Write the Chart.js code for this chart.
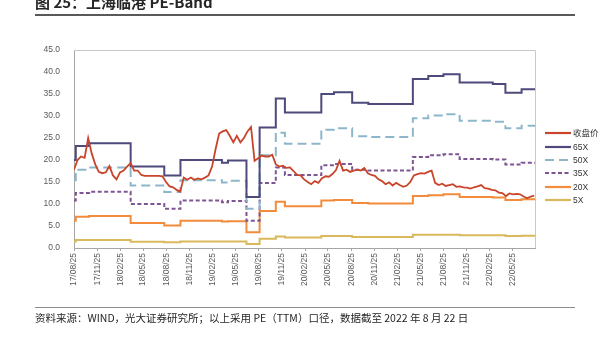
<!DOCTYPE html>
<html>
<head>
<meta charset="utf-8">
<script src="https://cdn.jsdelivr.net/npm/chart.js@4/dist/chart.umd.min.js"></script>
<style>
  body { margin: 0; background: #fff; }
  #wrap { position: relative; width: 609px; height: 338px; overflow: hidden; }
  #c { position: absolute; left: 0; top: 0; }
  .title { position: absolute; left: 35px; top: -9px; font: bold 15px "Noto Sans CJK SC", sans-serif; color: #262626; white-space: nowrap; }
  .rule { position: absolute; left: 35px; width: 540px; background: #595959; }
  .foot { position: absolute; left: 35px; top: 310px; font: 10.5px "Noto Sans CJK SC", sans-serif; color: #262626; white-space: nowrap; }
</style>
</head>
<body>
<div id="wrap">
  <canvas id="c" width="609" height="338"></canvas>
  <div class="title">图 25：上海临港 PE-Band</div>
  <div class="rule" style="top:14px;height:1.5px"></div>
  <div class="rule" style="top:307px;height:1px;background:#8c8c8c"></div>
  <div class="foot">资料来源：WIND，光大证券研究所；以上采用 PE（TTM）口径，数据截至 2022 年 8 月 22 日</div>
</div>
<script>
const START = "2017-08-25";
const END = "2022-08-22";

const tickDates = ["2017-08-25", "2017-11-25", "2018-02-25", "2018-05-25", "2018-08-25", "2018-11-25",
  "2019-02-25", "2019-05-25", "2019-08-25", "2019-11-25", "2020-02-25", "2020-05-25", "2020-08-25",
  "2020-11-25", "2021-02-25", "2021-05-25", "2021-08-25", "2021-11-25", "2022-02-25", "2022-05-25"];

// band lines change only when the TTM earnings change
const bandDates = ["2017-08-25", "2017-09-01", "2017-10-24", "2018-04-06", "2018-08-17", "2018-10-20",
  "2019-04-02", "2019-04-26", "2019-07-08", "2019-08-29", "2019-11-01", "2019-12-07", "2020-04-29",
  "2020-06-18", "2020-08-29", "2020-11-01", "2021-04-26", "2021-06-26", "2021-08-25", "2021-10-28",
  "2022-03-08", "2022-04-27", "2022-06-30", "2022-08-22"];
const pe65 = [20.0, 23.2, 23.8, 18.5, 16.5, 20.0, 19.4, 19.9, 11.6, 27.4, 34.0, 30.8, 35.0, 35.4, 33.0, 32.7, 38.4, 39.1, 39.5, 37.6, 37.3, 35.3, 36.1, 36.1];
const pe50 = [15.4, 17.8, 18.3, 14.2, 12.7, 15.4, 14.9, 15.3, 8.9, 21.1, 26.2, 23.7, 26.9, 27.2, 25.4, 25.2, 29.5, 30.1, 30.4, 28.9, 28.7, 27.2, 27.8, 27.8];
const pe35 = [10.8, 12.5, 12.8, 10.0, 8.9, 10.8, 10.4, 10.7, 6.2, 14.8, 18.3, 16.6, 18.8, 19.1, 17.8, 17.6, 20.7, 21.1, 21.3, 20.2, 20.1, 19.0, 19.4, 19.4];
const pe20 = [6.2, 7.1, 7.3, 5.7, 5.1, 6.2, 6.0, 6.1, 3.6, 8.4, 10.5, 9.5, 10.8, 10.9, 10.2, 10.1, 11.8, 12.0, 12.2, 11.6, 11.5, 10.9, 11.1, 11.1];
const pe5 = [1.5, 1.8, 1.8, 1.4, 1.3, 1.5, 1.5, 1.5, 0.9, 2.1, 2.6, 2.4, 2.7, 2.7, 2.5, 2.5, 3.0, 3.0, 3.0, 2.9, 2.9, 2.7, 2.8, 2.8];

// close price, one reading every 14 days from START
const priceStepDays = 14;
const closePrice = [17.8, 20.0, 20.8, 20.5, 25.0, 21.5, 19.0, 17.3, 17.0, 17.2,
  18.6, 16.5, 15.6, 17.2, 17.6, 18.5, 19.3, 17.6, 17.6, 16.6,
  16.4, 16.4, 16.4, 16.4, 16.4, 16.3, 15.0, 14.0, 13.8, 13.2,
  12.8, 16.0, 15.5, 16.0, 15.5, 15.8, 15.6, 16.0, 16.5, 18.5,
  22.5, 26.0, 26.5, 26.8, 25.5, 24.0, 25.5, 24.0, 25.0, 26.5,
  27.5, 19.8, 20.4, 21.0, 20.8, 20.8, 21.2, 19.0, 18.5, 18.7,
  18.2, 18.3, 17.5, 16.6, 16.5, 15.6, 15.0, 14.5, 15.2, 14.8,
  15.8, 16.3, 16.2, 16.8, 17.7, 19.8, 17.6, 17.8, 17.3, 17.6,
  17.8, 17.6, 18.2, 17.0, 16.6, 16.4, 15.6, 15.2, 14.5, 14.9,
  14.2, 14.8, 14.3, 13.9, 14.2, 15.0, 16.5, 16.8, 17.0, 16.9,
  17.3, 17.6, 14.8, 14.3, 14.6, 14.1, 14.3, 14.5, 13.9, 14.0,
  13.8, 13.7, 13.5, 13.8, 14.0, 14.3, 13.6, 13.5, 13.2, 13.1,
  12.6, 12.5, 11.8, 12.4, 12.2, 12.3, 12.2, 11.7, 11.3, 11.7, 11.9];

const yMin = 0, yMax = 45, yStep = 5;

const dayNum = d => Math.round((Date.parse(d) - Date.parse(START)) / 86400000);
const fmtDay = v => {
  const d = new Date(Date.parse(START) + v * 86400000);
  const p = n => String(n).padStart(2, "0");
  return p(d.getUTCFullYear() % 100) + "/" + p(d.getUTCMonth() + 1) + "/" + p(d.getUTCDate());
};
const band = vals => bandDates.map((d, i) => ({ x: dayNum(d), y: vals[i] }));

const legendPlugin = {
  id: "sideLegend",
  afterDraw(chart) {
    const ctx = chart.ctx;
    const ys = [133, 147, 160, 173, 187, 200];
    chart.data.datasets.forEach((ds, i) => {
      const y = ys[i];
      ctx.save();
      ctx.strokeStyle = ds.borderColor;
      ctx.lineWidth = 2.2;
      ctx.setLineDash(ds.borderDash || []);
      ctx.beginPath();
      ctx.moveTo(545, y);
      ctx.lineTo(571, y);
      ctx.stroke();
      ctx.setLineDash([]);
      ctx.fillStyle = "#333";
      ctx.font = '8.5px "Liberation Sans", "Noto Sans CJK SC", sans-serif';
      ctx.textBaseline = "middle";
      ctx.fillText(ds.label, 573, y + 0.5);
      ctx.restore();
    });
  }
};

const framePlugin = {
  id: "frame",
  beforeDatasetsDraw(chart) {
    const { ctx, chartArea: a } = chart;
    ctx.save();
    ctx.strokeStyle = "#c8c8c8";
    ctx.lineWidth = 1;
    ctx.beginPath();
    ctx.moveTo(a.left, a.top + 0.5);
    ctx.lineTo(a.right + 0.5, a.top + 0.5);
    ctx.lineTo(a.right + 0.5, a.bottom);
    ctx.stroke();
    ctx.restore();
  }
};

const line = (label, data, color, extra) => Object.assign({
  label, data, borderColor: color, backgroundColor: color,
  borderWidth: 2, pointRadius: 0, fill: false, tension: 0
}, extra);

new Chart(document.getElementById("c"), {
  type: "line",
  data: {
    datasets: [
      line("收盘价", closePrice.map((v, i) => ({ x: i * priceStepDays, y: v })), "#c8442a", { borderWidth: 1.8 }),
      line("65X", band(pe65), "#4e4a7c", { stepped: true }),
      line("50X", band(pe50), "#8db6cb", { stepped: true, borderDash: [9, 5] }),
      line("35X", band(pe35), "#7d5592", { stepped: true, borderDash: [4, 2.5] }),
      line("20X", band(pe20), "#f28c3c", { stepped: true }),
      line("5X", band(pe5), "#d9b95c", { stepped: true })
    ]
  },
  options: {
    responsive: false,
    animation: false,
    devicePixelRatio: 1,
    layout: { padding: { left: 0, right: 74, top: 50, bottom: 0 } },
    plugins: { legend: { display: false }, tooltip: { enabled: false } },
    scales: {
      x: {
        type: "linear",
        min: 0,
        max: dayNum(END),
        afterFit: s => { s.height = 90; },
        afterBuildTicks: s => { s.ticks = tickDates.map(d => ({ value: dayNum(d) })); },
        grid: { drawOnChartArea: false, tickLength: 3, color: "#a6a6a6" },
        border: { color: "#a6a6a6" },
        ticks: {
          minRotation: 90, maxRotation: 90, autoSkip: false, padding: 2,
          color: "#595959", font: { family: "Liberation Sans", size: 8.5 },
          callback: v => fmtDay(v)
        }
      },
      y: {
        min: yMin, max: yMax,
        afterFit: s => { s.width = 74; },
        grid: { display: false },
        border: { color: "#a6a6a6" },
        ticks: {
          stepSize: yStep, padding: 6,
          color: "#595959", font: { family: "Liberation Sans", size: 8.5 },
          callback: v => v.toFixed(1)
        }
      }
    }
  },
  plugins: [legendPlugin, framePlugin]
});
</script>
</body>
</html>
